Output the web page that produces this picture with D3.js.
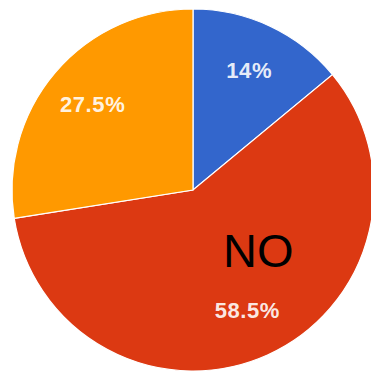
<!DOCTYPE html>
<html>
<head>
<meta charset="utf-8">
<script src="https://cdn.jsdelivr.net/npm/d3@7"></script>
<style>
  html, body { margin: 0; padding: 0; background: #fff; }
  svg { display: block; }
</style>
</head>
<body>
<svg id="chart" width="371" height="372"></svg>
<script>
// Answer shares, in drawing order (clockwise from 12 o'clock)
const categories = ["A", "NO", "B"];
const shares = [14, 58.5, 27.5];
const labels = ["14%", "58.5%", "27.5%"];
const colors = ["#3366cc", "#dc3912", "#ff9900"];

const svg = d3.select("#chart");
const cx = 193, cy = 190, radius = 181;

const g = svg.append("g").attr("transform", `translate(${cx},${cy})`);

const pie = d3.pie().sort(null).value(d => d.value);
const arcs = pie(categories.map((c, i) => ({ name: c, value: shares[i], label: labels[i], color: colors[i] })));

const arc = d3.arc().innerRadius(0).outerRadius(radius);
const labelArc = d3.arc().innerRadius(132).outerRadius(132);

g.selectAll("path.slice")
  .data(arcs)
  .join("path")
  .attr("class", "slice")
  .attr("d", arc)
  .attr("fill", d => d.data.color)
  .attr("stroke", "#fff")
  .attr("stroke-width", 1.2);

g.selectAll("text.pct")
  .data(arcs)
  .join("text")
  .attr("class", "pct")
  .attr("transform", d => `translate(${labelArc.centroid(d)})`)
  .attr("text-anchor", "middle")
  .attr("dy", "0.36em")
  .attr("fill", "#fff")
  .attr("fill-opacity", 0.9)
  .attr("font-family", "Liberation Sans, Arial, sans-serif")
  .attr("font-weight", "bold")
  .attr("font-size", 22)
  .attr("letter-spacing", 0.6)
  .text(d => d.data.label);

// Category callout on the largest slice
svg.append("text")
  .attr("x", 223)
  .attr("y", 267)
  .attr("fill", "#000")
  .attr("font-family", "Liberation Sans, Arial, sans-serif")
  .attr("font-size", 47)
  .text(categories[1]);
</script>
</body>
</html>
